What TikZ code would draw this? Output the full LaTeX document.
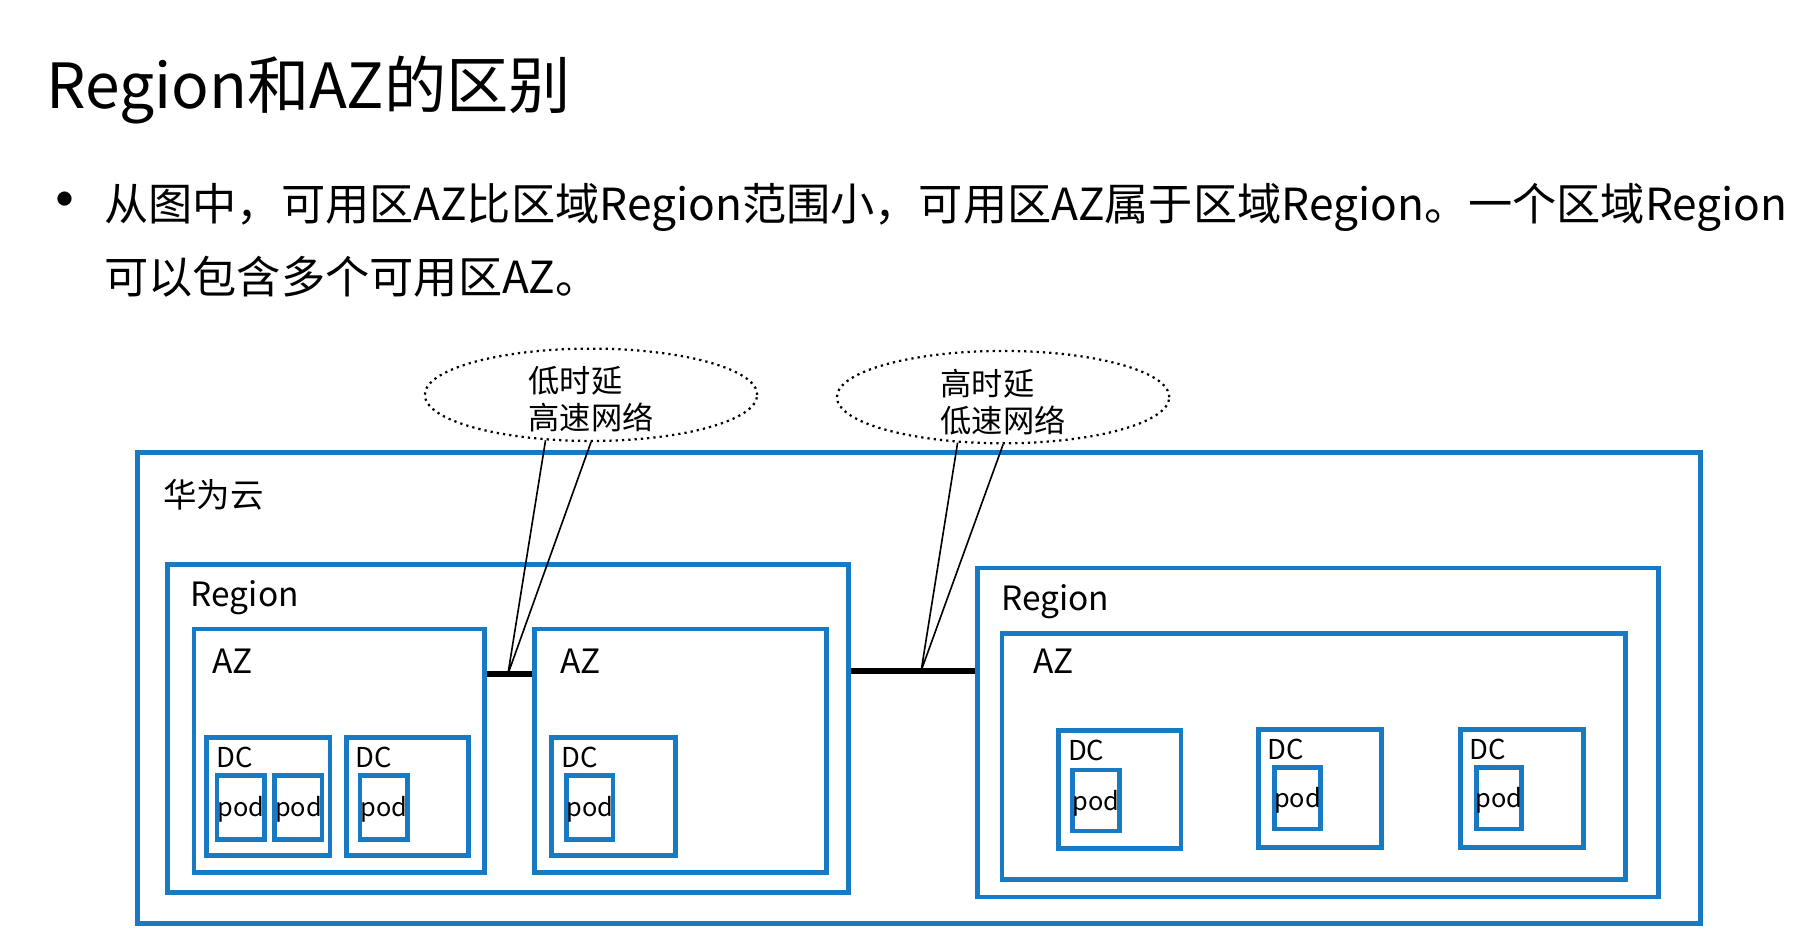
\documentclass[tikz,border=0pt]{standalone}
\usepackage{fontspec}
\setmainfont{Noto Sans CJK SC}
\usetikzlibrary{positioning,shapes.geometric,fit,calc}
\definecolor{hwblue}{RGB}{24,122,194}
\tikzset{
	box/.style={draw=hwblue,line width=2.3pt,inner sep=0pt,rectangle},
	lbl/.style={anchor=west,inner sep=0pt,font=\fontsize{16.5}{19}\selectfont},
	dclbl/.style={anchor=west,inner sep=0pt,font=\fontsize{13.5}{15}\selectfont},
	podlbl/.style={inner sep=0pt,font=\fontsize{12.5}{14}\selectfont},
	link/.style={line width=2.8pt},
	callout/.style={line width=0.8pt},
	bubble/.style={ellipse,draw,dotted,line width=1.1pt,minimum width=5.76cm,minimum height=1.6cm,inner sep=0pt},
	bubbletxt/.style={align=left,inner sep=0pt,font=\fontsize{15.4}{18.2}\selectfont}
}
\begin{document}
\begin{tikzpicture}[x=0.02cm,y=-0.02cm]
		\fill[white](0,0) rectangle (1568,823);
		\useasboundingbox (0,0) rectangle (1568,823);
		\node[anchor=west,inner sep=0pt,font=\fontsize{30.7}{36}\selectfont] (title) at (40,78) {Region和AZ的区别};
		\node[inner sep=0pt,font=\fontsize{33}{33}\selectfont] (dot) at (56,180) {•};
		\node[anchor=west,inner sep=0pt,font=\fontsize{21.8}{26}\selectfont] (line1) at (90,180) {从图中，可用区AZ比区域Region范围小，可用区AZ属于区域Region。一个区域Region};
		\node[anchor=west,inner sep=0pt,font=\fontsize{21.8}{26}\selectfont] (line2) at (90,240) {可以包含多个可用区AZ。};
		
		\node[box,fit={(119,392)(1473,800)}] (cloud) {};
		\node[lbl] (cloudlbl) at ($(cloud.north west)+(24,39)$) {华为云};
		
		\node[box,fit={(145,489)(735,773)}] (reg1) {};
		\node[box,fit={(847,492)(1437,777)}] (reg2) {};
		\foreach \r in {reg1,reg2}
			\node[lbl] (\r lbl) at ($(\r.north west)+(22,31)$) {Region};
		
		\node[box,fit={(168,545)(420,756)}] (az1) {};
		\node[box,fit={(463,545)(716,756)}] (az2) {};
		\node[box,fit={(868,549)(1408,762)}] (az3) {};
		\node[lbl] (az1lbl) at ($(az1.north west)+(18,30)$) {AZ};
		\node[lbl] (az2lbl) at ($(az2.north west)+(24,30)$) {AZ};
		\node[lbl] (az3lbl) at ($(az3.north west)+(29,26)$) {AZ};
		
		\foreach \n/\a/\b/\c/\d in {dc1/179/639/286/741,dc2/300/639/406/741,dc3/478/639/585/741,dc4/917/633/1023/735,dc5/1090/632/1197/734,dc6/1265/632/1372/734}{
			\node[box,fit={(\a,\b)(\c,\d)}] (\n) {};
			\node[dclbl] (\n lbl) at ($(\n.north west)+(10,19)$) {DC};
		}
		\foreach \n/\a/\b/\c/\d in {pod1/188/672/229/727,pod2/238/672/279/727,pod3/312/672/353/727,pod4/491/672/531/727,pod5/929/667/970/720,pod6/1104/665/1144/718,pod7/1279/665/1318/718}{
			\node[box,fit={(\a,\b)(\c,\d)}] (\n) {};
			\node[podlbl] (\n lbl) at ($(\n.center)+(0,2)$) {pod};
		}
		
		\node[bubble] (ell1) at (512,342) {};
		\node[bubble] (ell2) at (869,344) {};
		\node[bubbletxt] (ell1txt) at ($(ell1)+(0,4)$) {低时延\\高速网络};
		\node[bubbletxt] (ell2txt) at ($(ell2)+(0,4)$) {高时延\\低速网络};
		
		\coordinate (hub1) at (440,584);
		\coordinate (hub2) at (798,581);
		\draw[link](az1.east |- hub1)--(az2.west |- hub1);
		\draw[link](reg1.east |- hub2)--(reg2.west |- hub2);
		\draw[callout](ell1.-135)--(hub1)--(ell1.south);
		\draw[callout](ell2.-135)--(hub2)--(ell2.south);
	\end{tikzpicture}
\end{document}
